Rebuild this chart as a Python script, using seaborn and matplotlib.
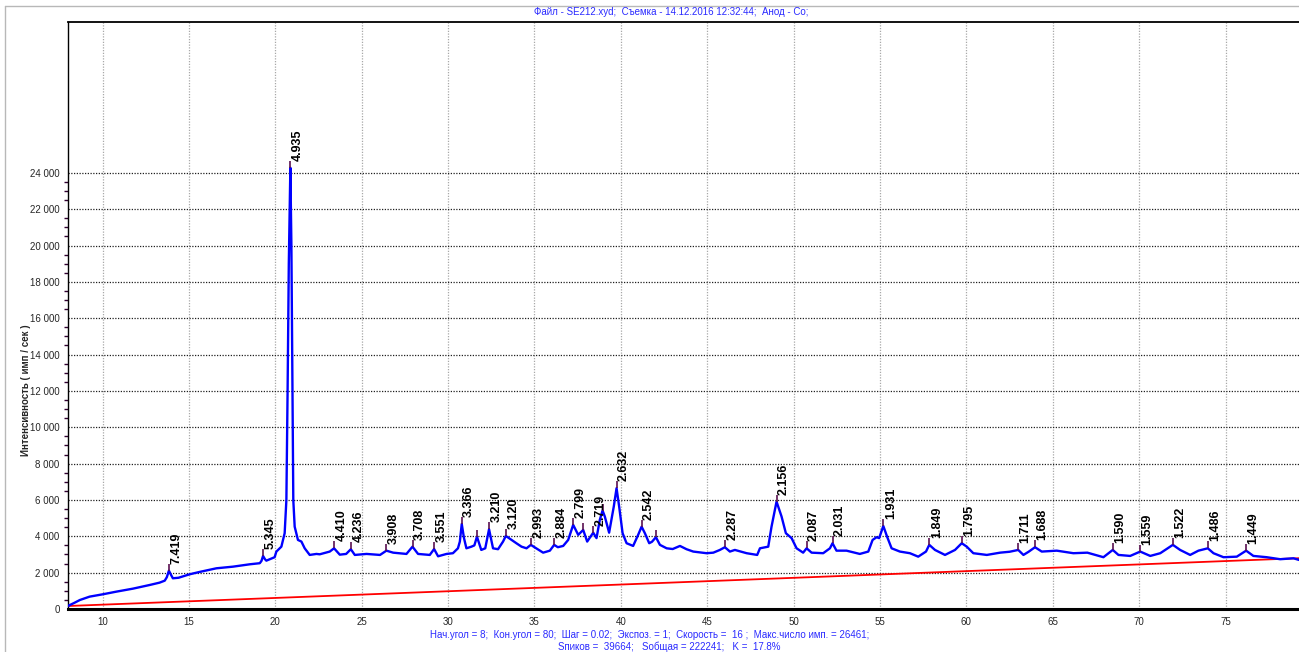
import numpy as np
import pandas as pd
import matplotlib
matplotlib.use("Agg")
import matplotlib.pyplot as plt
from matplotlib.ticker import FuncFormatter, FixedLocator
from matplotlib.lines import Line2D
import seaborn as sns

# ---------------- data ----------------
two_theta = [8.00, 8.35, 8.69, 9.25, 10.02, 10.8, 11.76, 12.73, 13.3, 13.6, 13.72, 13.84, 13.95,
             14.07, 14.4, 15.04, 15.62, 16.59, 17.55, 18.52, 19.1, 19.2, 19.29, 19.4, 19.48,
             19.96, 20.06, 20.35, 20.54, 20.64, 20.71, 20.78, 20.87, 20.93, 20.99, 21.04, 21.12,
             21.31, 21.51, 21.7, 21.99, 22.38, 22.57, 23.15, 23.40, 23.73, 24.1, 24.37, 24.6,
             25.28, 26.06, 26.43, 26.82, 27.59, 27.94, 28.26, 28.94, 29.19, 29.42, 29.91, 30.28,
             30.57, 30.68, 30.79, 30.92, 31.06, 31.35, 31.52, 31.67, 31.92, 32.15, 32.37, 32.6,
             32.89, 33.18, 33.34, 33.67, 33.95, 34.25, 34.54, 34.79, 35.0, 35.5, 35.89, 36.14,
             36.35, 36.66, 36.95, 37.24, 37.53, 37.82, 38.05, 38.40, 38.59, 38.78, 38.94, 39.07,
             39.32, 39.59, 39.75, 39.9, 40.1, 40.33, 40.71, 41.0, 41.2, 41.39, 41.64, 41.8,
             42.03, 42.26, 42.65, 43.0, 43.42, 43.8, 44.19, 44.96, 45.35, 45.73, 46.02, 46.31,
             46.6, 47.28, 47.89, 48.05, 48.53, 48.72, 49.01, 49.3, 49.55, 49.88, 50.17, 50.55,
             50.75, 51.04, 51.71, 52.1, 52.25, 52.48, 53.06, 53.83, 54.32, 54.57, 54.8, 54.95,
             55.19, 55.42, 55.67, 56.15, 56.73, 57.21, 57.66, 57.85, 58.18, 58.76, 59.34, 59.73,
             60.02, 60.4, 61.18, 61.95, 62.5, 63.0, 63.3, 63.6, 63.97, 64.36, 65.23, 66.19,
             67.0, 67.93, 68.47, 68.8, 69.48, 70.06, 70.64, 71.22, 71.95, 72.37, 72.95, 73.43,
             73.97, 74.3, 74.88, 75.65, 76.19, 76.61, 77.38, 78.16, 78.93, 79.25]
intensity = [170, 330, 496, 680, 810, 955, 1120, 1322, 1450, 1560, 1750, 2110, 1900,
             1690, 1720, 1910, 2040, 2240, 2330, 2460, 2520, 2650, 2920, 2740, 2660,
             2850, 3160, 3430, 4170, 6000, 12000, 19000, 24280, 20000, 12000, 6000, 4530,
             3800, 3710, 3340, 2975, 3030, 3010, 3160, 3340, 2990, 3030, 3290, 2975,
             3030, 2975, 3210, 3100, 3030, 3430, 3030, 2975, 3300, 2900, 3030, 3070,
             3340, 3710, 4680, 3900, 3340, 3430, 3500, 3980, 3250, 3340, 4390, 3340,
             3290, 3710, 4020, 3800, 3620, 3430, 3340, 3530, 3400, 3100, 3210, 3530,
             3400, 3470, 3800, 4630, 4080, 4350, 3710, 4200, 3900, 4900, 5420, 5090,
             4200, 5640, 6650, 5640, 4170, 3620, 3470, 4080, 4530, 4170, 3620, 3700,
             3950, 3530, 3340, 3300, 3470, 3290, 3160, 3070, 3100, 3250, 3400, 3160,
             3250, 3070, 2975, 3340, 3430, 4530, 5910, 5090, 4170, 3900, 3340, 3100,
             3340, 3100, 3070, 3340, 3620, 3210, 3210, 3030, 3160, 3800, 3950, 3900,
             4570, 3950, 3340, 3160, 3070, 2880, 3160, 3530, 3250, 2975, 3250, 3620,
             3430, 3070, 2975, 3100, 3150, 3250, 2975, 3150, 3400, 3160, 3210, 3070,
             3100, 2850, 3250, 2975, 2920, 3160, 2920, 3070, 3530, 3250, 2975, 3210,
             3340, 3070, 2850, 2880, 3210, 2920, 2850, 2740, 2790, 2700]

background_theta = [8.0, 79.25]
background_int = [165, 2795]

peak_theta = [13.84, 19.29, 20.87, 23.40, 24.37, 26.43, 27.94, 29.19, 30.79, 31.67,
              32.37, 33.34, 34.79, 36.14, 37.24, 37.82, 38.40, 38.94, 39.75, 41.20,
              42.03, 46.02, 49.01, 50.75, 52.25, 55.19, 57.85, 59.73, 63.00, 63.97,
              68.47, 70.06, 71.95, 73.97, 76.19]
peak_int = [2110, 2920, 24280, 3340, 3290, 3210, 3430, 3300, 4680, 3980,
            4390, 4020, 3530, 3530, 4630, 4350, 4200, 5420, 6650, 4530,
            3950, 3400, 5910, 3340, 3620, 4570, 3530, 3620, 3250, 3400,
            3250, 3160, 3530, 3340, 3210]
peak_labels = ["7.419", "5.345", "4.935", "4.410", "4.236", "3.908", "3.708", "3.551", "3.366", "",
               "3.210", "3.120", "2.993", "2.884", "2.799", "", "2.719", "", "2.632", "2.542",
               "", "2.287", "2.156", "2.087", "2.031", "1.931", "1.849", "1.795", "1.711", "1.688",
               "1.590", "1.559", "1.522", "1.486", "1.449"]

x_ticks = [10, 15, 20, 25, 30, 35, 40, 45, 50, 55, 60, 65, 70, 75]
y_ticks = [0, 2000, 4000, 6000, 8000, 10000, 12000, 14000, 16000, 18000, 20000, 22000, 24000]

title_text = "Файл - SE212.xyd;  Съемка - 14.12.2016 12:32:44;  Анод - Co;"
footer_1 = "Нач.угол = 8;  Кон.угол = 80;  Шаг = 0.02;  Экспоз. = 1;  Скорость =  16 ;  Макс.число имп. = 26461;"
footer_2 = "Sпиков =  39664;   Sобщая = 222241;   K =  17.8%"
y_label = "Интенсивность ( имп / сек )"

# ---------------- drawing ----------------
sns.set_style("white")
plt.rcParams['font.family'] = ['Liberation Sans', 'DejaVu Sans']

W, H = 1299, 652
fig = plt.figure(figsize=(W / 100, H / 100), dpi=100)
ax_left, ax_right, ax_top, ax_bot = 68, 1299, 22, 609
ax = fig.add_axes([ax_left / W, 1 - ax_bot / H, (ax_right - ax_left) / W, (ax_bot - ax_top) / H])

xmin, xmax = 8.0, 79.25
ymin, ymax = 0, 32300

# grid
for xt in x_ticks:
    ax.axvline(xt, color="#a8a8a8", lw=0.9, ls=(0, (1, 1.2)), zorder=0)
for yt in y_ticks[1:]:
    ax.axhline(yt, color="#202020", lw=0.9, ls=(0, (1, 1.2)), zorder=0)

df = pd.DataFrame({"theta": two_theta, "I": intensity})
bg = pd.DataFrame({"theta": background_theta, "I": background_int})
sns.lineplot(data=bg, x="theta", y="I", ax=ax, color="#ff0000", lw=1.3, estimator=None, sort=False, zorder=2)
sns.lineplot(data=df, x="theta", y="I", ax=ax, color="#0000ff", lw=1.7, estimator=None, sort=False, zorder=3)

tick_h = (ymax - ymin) / (ax_bot - ax_top) * 7
ax.vlines(peak_theta, peak_int, [p + tick_h for p in peak_int], color="#5a1050", lw=1.2, zorder=4)
for t, p, lab in zip(peak_theta, peak_int, peak_labels):
    if lab:
        ax.annotate(lab, xy=(t, p + tick_h), xytext=(5.4, 0), textcoords="offset points",
                    rotation=90, ha="center", va="bottom", fontsize=9, fontweight="bold",
                    color="black", zorder=5)

ax.set_xlim(xmin, xmax)
ax.set_ylim(ymin, ymax)
ax.set_xticks(x_ticks)
ax.set_yticks(y_ticks)
ax.yaxis.set_minor_locator(FixedLocator([v for v in np.arange(0, 24001, 500)]))
ax.yaxis.set_major_formatter(FuncFormatter(lambda v, p: f"{int(v):,}".replace(",", " ")))
ax.tick_params(axis="y", which="major", length=5, width=1, color="#300030", labelsize=7, pad=1)
ax.tick_params(axis="y", which="minor", length=3, width=1, color="#300030", left=True)
ax.tick_params(axis="x", which="major", length=3, width=0.8, color="#a8a8a8", labelsize=7, pad=3)

ax.set_xlabel("")
ax.set_ylabel(y_label, fontsize=7, fontweight="bold")
ax.yaxis.set_label_coords((31 - ax_left) / (ax_right - ax_left), 1 - (390 - ax_top) / (ax_bot - ax_top))

ax.spines["right"].set_visible(False)
ax.spines["left"].set_color("black")
ax.spines["left"].set_linewidth(1.0)
ax.spines["top"].set_color("black")
ax.spines["top"].set_linewidth(1.3)
ax.spines["bottom"].set_color("black")
ax.spines["bottom"].set_linewidth(2.2)

blue_text = "#2a2aff"
fig.text(671 / W, 1 - 12 / H, title_text, ha="center", va="center", fontsize=7, color=blue_text)
fig.text(650 / W, 1 - 635 / H, footer_1, ha="center", va="center", fontsize=7, color=blue_text)
fig.text(669 / W, 1 - 647 / H, footer_2, ha="center", va="center", fontsize=7, color=blue_text)

# outer panel border
fig.add_artist(Line2D([5 / W, 5 / W], [0, 1 - 6 / H], transform=fig.transFigure, color="#b8b8b8", lw=1))
fig.add_artist(Line2D([5 / W, 1], [1 - 6 / H, 1 - 6 / H], transform=fig.transFigure, color="#b8b8b8", lw=1))

fig.savefig("out.png", dpi=100, facecolor="white")
